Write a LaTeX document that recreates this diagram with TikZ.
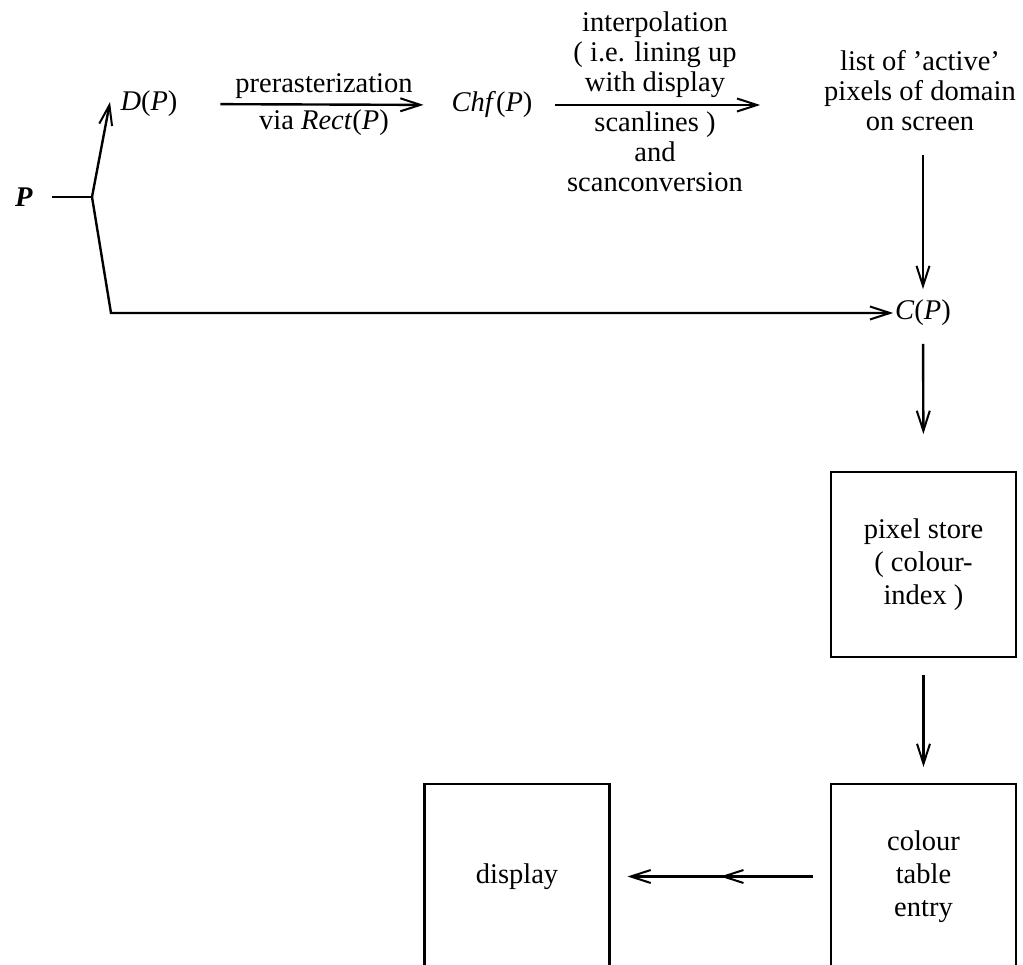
\documentclass[tikz,border=0pt]{standalone}
\usepackage{fontspec}
\setmainfont{Liberation Serif}
\usetikzlibrary{arrows.meta,decorations.markings}
\begin{document}
\begin{tikzpicture}[x=1pt,y=-1pt,
  font=\fontsize{28.5}{30}\selectfont,
  every node/.style={inner sep=0pt, outer sep=0pt},
  txt/.style={align=center},
  barb/.tip={Straight Barb[length=20pt,width=13pt,line width=2pt]},
  wire/.style={line width=2.4pt},
  flow/.style={wire, -barb},
  stagebox/.style={draw, line width=2.4pt, minimum width=185pt,
    minimum height=185pt, align=center,
    font=\fontsize{28.5}{33}\selectfont},
  midtip/.style={postaction={decorate}, decoration={markings,
    mark=at position 0.5 with {\arrow{barb}}}},
]
\clip (0,0) rectangle (1023,965);

% input primitive and its two derived descriptions
\node (P) at (24,197) {\textbf{\textit{P}}};
\coordinate (br) at (92,197);
\coordinate (dtip) at (110,102);
\coordinate (corner) at (111,313);
\node (D) at (149,104) {\textit{D}(\textit{P})};
\node (chf) at (492,105) {\textit{Chf}(\textit{P})};

% labels of the two top transformations
\node[txt] (pre1) at (324,86) {prerasterization};
\node[txt] (pre2) at (324,123) {via \textit{Rect}(\textit{P})};
\node[txt] (int1) at (655,55) {interpolation\\( i.e. lining up\\with display};
\node[txt] (int2) at (655,152) {scanlines )\\and\\scanconversion};

\node[txt] (list) at (920,91) {list of ’active’\\pixels of domain\\on screen};
\node (C) at (923,313) {\textit{C}(\textit{P})};

% storage and output stages
\node[stagebox] (store) at (923.5,564.5) {pixel store\\( colour-\\index )};
\node[stagebox] (ctab) at (923.5,876.5) {colour\\table\\entry};
\node[stagebox] (disp) at (517,876.5) {display};

% connectors
\draw[wire, shorten <=19pt] (P.east) -- (br);
\draw[flow] (br) -- (dtip);
\draw[flow, shorten >=2pt] (br) -- (corner) -- (C.west);
\draw[flow, shorten <=43pt, shorten >=28pt] (D.east) -- (chf.west);
\draw[flow, shorten <=23pt, shorten >=64pt] (chf.east) -- (chf.east -| list.west);
\draw[flow, shorten <=24pt, shorten >=11pt] (C.north |- list.south) -- (C.north);
\draw[flow, shorten <=18pt, shorten >=38pt] (C.south) -- (store.north);
\draw[flow, shorten <=18pt, shorten >=17pt] (store.south) -- (ctab.north);
\draw[flow, midtip, shorten <=18pt, shorten >=18pt] (ctab.west) -- (disp.east);
\end{tikzpicture}
\end{document}
